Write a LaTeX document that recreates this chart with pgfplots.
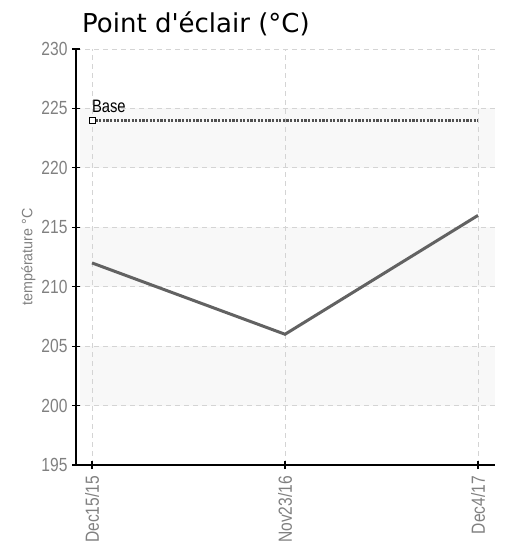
\documentclass[border=0pt]{standalone}
\usepackage{pgfplots}
\pgfplotsset{compat=1.18}
\usepackage{fontspec}
\setmainfont{DejaVu Sans}
\newfontfamily\condfont[FakeStretch=0.82]{Liberation Sans}
\newfontfamily\labfont[FakeStretch=0.95]{Liberation Sans}
\usetikzlibrary{calc}
\definecolor{tickgray}{HTML}{808080}
\definecolor{linegray}{HTML}{626262}
\definecolor{basegray}{HTML}{505050}
\definecolor{gridgray}{HTML}{D4D4D4}
\definecolor{bandgray}{HTML}{F8F8F8}
\newcommand\sq{\XeTeXglyph\the\XeTeXcharglyph"27\relax}
\begin{document}
\begin{tikzpicture}
\pgfplotsset{set layers}
\begin{axis}[
  name=ax,
  scale only axis,
  width=419pt, height=416pt,
  xmin=-0.083, xmax=2.088,
  ymin=195, ymax=230,
  ytick={195,200,...,230},
  xtick={0,1,2},
  xticklabels={Dec15/15,Nov23/16,Dec4/17},
  axis x line*=bottom,
  axis y line*=left,
  axis line style={black, line width=1.2pt, -},
  tick style={black, line width=1.2pt},
  major tick length=8pt,
  tick align=center,
  grid=major,
  grid style={gridgray, dash pattern=on 5pt off 4pt, line width=0.8pt},
  /pgf/number format/assume math mode=true,
  ticklabel style={font=\condfont\fontsize{19}{19}\selectfont, text=tickgray},
  yticklabel style={xshift=-1pt},
  xticklabel style={rotate=90, anchor=east, inner sep=0pt, xshift=-7pt, yshift=0pt},
  ylabel={température °C},
  ylabel style={font=\labfont\fontsize{15}{15}\selectfont, text=tickgray, yshift=-1pt},
  title={Point d\sq éclair (°C)},
  title style={font=\fontsize{26}{26}\selectfont, anchor=base west, at={(rel axis cs:0,1)}, inner sep=0pt, xshift=6pt, yshift=10pt},
  clip=false,
]
\begin{pgfonlayer}{axis background}
\fill[bandgray] (axis cs:-0.06,200) rectangle (axis cs:2.088,205);
\fill[bandgray] (axis cs:-0.06,210) rectangle (axis cs:2.088,215);
\fill[bandgray] (axis cs:-0.06,220) rectangle (axis cs:2.088,225);
\end{pgfonlayer}
\addplot[linegray, line width=3pt, mark=none] coordinates {(0,212) (1,206) (2,216)};
\addplot[basegray, line width=2.6pt, dash pattern=on 2.2pt off 1.4pt, mark=none] coordinates {(0,224) (1,224) (2,224)};
\addplot[black, line width=1pt, only marks, mark=square*, mark size=3pt, mark options={fill=white, solid}] coordinates {(0,224)}
  node[pos=0, anchor=south west, font=\condfont\fontsize{18}{18}\selectfont, text=black, inner sep=0pt, xshift=-0.5pt, yshift=7.5pt] {Base};
\end{axis}
\pgfresetboundingbox
\path[use as bounding box] ($(ax.south west)+(-76pt,-80pt)$) rectangle ($(ax.north east)+(16pt,49pt)$);
\end{tikzpicture}
\end{document}
